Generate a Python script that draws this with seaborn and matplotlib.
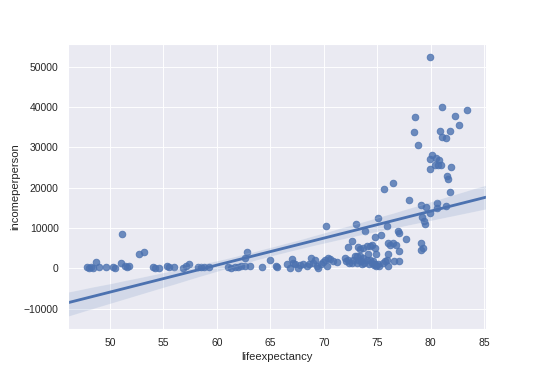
"""
Gapminder — income per person vs life expectancy
Simple regplot, old-school darkgrid look.

Output: out.png
"""

import pandas as pd
import matplotlib.pyplot as plt
import seaborn as sns

# ── DATA ──────────────────────────────────────────────────────────────────────
# low life expectancy countries, income near zero
life_low = [47.8, 48.0, 48.2, 48.4, 48.7, 49.0, 49.6, 50.3, 50.5, 51.1,
            51.0, 51.4, 51.6, 51.8, 52.7, 53.2, 54.0, 54.2, 54.6, 55.3,
            55.5, 56.0, 56.8, 57.1, 57.4, 58.2, 58.5, 58.8, 59.3,
            61.0, 61.3, 61.7, 62.0, 62.3, 62.6, 62.6, 62.8, 63.1, 64.2,
            65.0, 65.5, 65.6]
income_low = [250, 150, 300, 200, 1700, 350, 250, 400, 150, 8600,
              1450, 600, 300, 700, 3700, 4200, 400, 200, 150, 500,
              250, 300, 150, 500, 1200, 350, 400, 300, 400,
              300, 150, 300, 250, 500, 700, 2500, 4200, 700, 300,
              2000, 600, 350]

# middle band, 66-78 years
life_mid = [66.6, 66.8, 67.0, 67.1, 67.3, 67.6, 67.8, 68.1, 68.4, 68.6,
            68.8, 69.0, 69.2, 69.4, 69.5, 69.7, 69.9, 70.1, 70.3, 70.2,
            70.4, 70.6, 70.9, 71.2,
            72.0, 72.1, 72.3, 72.4, 72.7, 72.9, 73.1, 73.2, 73.4, 73.5,
            73.7, 73.8, 74.0, 74.1, 74.3, 74.5, 74.6, 74.8, 74.9, 75.1,
            75.2, 75.5, 75.9, 72.6, 73.1, 73.6, 74.2, 74.7, 75.7, 76.6,
            76.0, 77.0, 76.0,
            72.6, 72.3, 73.2, 73.4, 73.7, 74.0, 74.3, 74.5, 74.8, 74.9,
            76.0, 76.2, 76.5, 76.8, 77.0]
income_mid = [1100, 200, 2300, 1300, 1000, 200, 900, 1200, 600, 1000,
              2700, 1400, 2000, 600, 100, 1000, 1500, 2200, 600, 10500,
              2700, 2300, 1900, 1700,
              2650, 1800, 2200, 1400, 2200, 3000, 1400, 2200, 3000, 1800,
              2600, 1400, 2200, 3500, 2200, 1400, 1800, 1000, 600, 1000,
              600, 1400, 2200, 1400, 3000, 1000, 1200, 800, 1800, 1800,
              3500, 1800, 500,
              6700, 5300, 5300, 4800, 5100, 5500, 5500, 5900, 5100, 3500,
              6300, 5900, 6300, 5900, 4300]

# upper-middle scatter, 7000-13000
life_upper = [73.0, 73.9, 75.1, 75.9, 76.9, 77.0, 77.7, 75.4, 74.8,
              79.1, 79.3, 79.1, 79.2, 79.4, 79.5]
income_upper = [11100, 9400, 12400, 10600, 9200, 8900, 7300, 8300, 7900,
                6400, 5100, 4500, 12800, 11800, 11000]

# rich countries
life_high = [78.0, 78.5, 78.4, 78.8, 79.1, 79.6, 79.9, 79.9, 80.1, 79.9,
             80.5, 80.8, 80.4, 80.7, 81.0, 79.9, 81.9, 81.5, 81.6, 81.8,
             75.6, 76.5, 80.6, 80.6, 81.4, 81.1, 83.4, 82.3, 82.7, 80.9,
             81.8, 81.1, 81.4]
income_high = [17000, 37400, 33900, 30500, 15700, 15300, 13700, 52300, 28000, 27000,
               27400, 26800, 25600, 25700, 25700, 24600, 25200, 23000, 22100, 18900,
               19600, 21100, 16300, 14900, 15400, 39900, 39300, 37700, 35500, 34000,
               34000, 32500, 32300]

df = pd.DataFrame({
    "lifeexpectancy": life_low + life_mid + life_upper + life_high,
    "incomeperperson": income_low + income_mid + income_upper + income_high,
})

# ── PLOT ──────────────────────────────────────────────────────────────────────
sns.set_theme(style="darkgrid", context="notebook")
plt.rcParams["font.family"] = ["Liberation Sans", "DejaVu Sans"]

fig, ax = plt.subplots(figsize=(8, 370 / 67.5))
# older seaborn drew the fit a bit heavier (1.75 * 1.75)
sns.regplot(data=df, x="lifeexpectancy", y="incomeperperson", ax=ax,
            truncate=False, seed=0, scatter_kws={"s": 50},
            line_kws={"lw": 3.0})

fig.savefig("out.png", dpi=67.5)
